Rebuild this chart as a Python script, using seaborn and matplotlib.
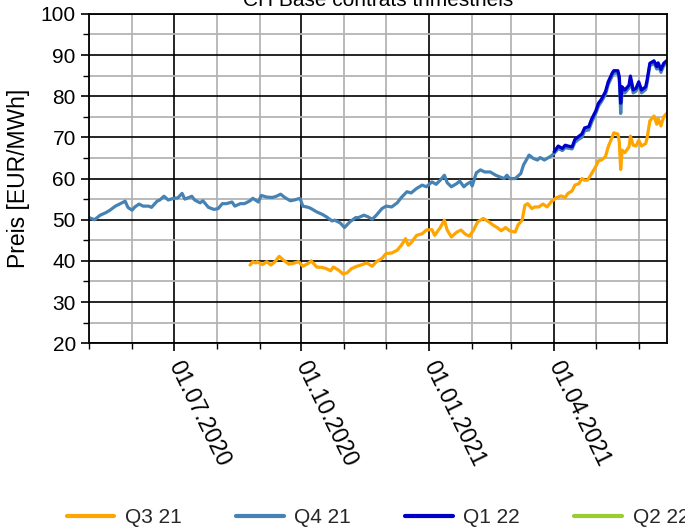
import matplotlib
matplotlib.use("Agg")
import matplotlib.pyplot as plt
import matplotlib.dates as mdates
import seaborn as sns
import pandas as pd

# ---------------- data ----------------
q3_21_dates = ["2020-08-25","2020-08-27","2020-08-29","2020-08-30","2020-09-03","2020-09-06","2020-09-09",
    "2020-09-12","2020-09-15","2020-09-18","2020-09-22","2020-09-25","2020-09-29","2020-10-02","2020-10-06",
    "2020-10-08","2020-10-12","2020-10-16","2020-10-19","2020-10-22","2020-10-24","2020-10-28","2020-10-31",
    "2020-11-03","2020-11-06","2020-11-10","2020-11-13","2020-11-17","2020-11-21","2020-11-24","2020-11-28",
    "2020-12-01","2020-12-05","2020-12-09","2020-12-12","2020-12-15","2020-12-17","2020-12-19","2020-12-23",
    "2020-12-27","2020-12-30","2021-01-03","2021-01-05","2021-01-09","2021-01-12","2021-01-14","2021-01-17",
    "2021-01-21","2021-01-24","2021-01-27","2021-01-30","2021-02-02","2021-02-05","2021-02-09","2021-02-13",
    "2021-02-16","2021-02-19","2021-02-22","2021-02-25","2021-02-28","2021-03-04","2021-03-06","2021-03-09",
    "2021-03-11","2021-03-13","2021-03-16","2021-03-18","2021-03-21","2021-03-24","2021-03-27","2021-03-30",
    "2021-04-03","2021-04-06","2021-04-09","2021-04-11","2021-04-14","2021-04-16","2021-04-19","2021-04-21",
    "2021-04-23","2021-04-25","2021-04-27","2021-05-01","2021-05-03","2021-05-05","2021-05-08","2021-05-10",
    "2021-05-13","2021-05-14","2021-05-17","2021-05-18","2021-05-19","2021-05-20","2021-05-22","2021-05-25",
    "2021-05-26","2021-05-28","2021-05-30","2021-06-01","2021-06-03","2021-06-06","2021-06-07","2021-06-09",
    "2021-06-12","2021-06-14","2021-06-15","2021-06-17","2021-06-19","2021-06-21"]
q3_21_values = [39.0,39.8,39.5,39.8,39.1,39.8,39.0,
    39.8,41.1,40.2,39.2,39.4,39.8,38.7,39.4,
    40.0,38.5,38.4,38.1,37.6,38.5,37.7,36.8,
    37.1,38.1,38.7,39.0,39.5,38.7,39.8,40.6,
    41.8,41.9,42.6,43.8,45.4,43.8,44.4,46.2,
    46.6,47.5,47.6,46.2,48.1,49.9,47.5,45.8,
    47.0,47.5,46.5,46.0,47.5,49.5,50.3,49.5,
    48.7,48.1,47.3,48.1,47.3,47.0,48.7,49.9,
    53.5,53.9,52.7,53.1,53.1,53.8,53.1,54.4,
    55.4,55.8,55.4,56.4,57.0,58.4,58.8,60.0,
    59.6,59.6,60.6,62.9,64.3,64.5,65.3,67.7,
    70.2,71.1,70.8,68.9,62.2,66.9,66.3,67.7,
    70.3,68.1,67.9,69.3,67.9,68.5,69.8,74.0,
    75.2,73.2,74.6,72.8,75.0,75.8]

q4_21_dates = ["2020-05-01","2020-05-05","2020-05-09","2020-05-13","2020-05-16","2020-05-20","2020-05-23",
    "2020-05-27","2020-05-29","2020-06-01","2020-06-03","2020-06-06","2020-06-09","2020-06-13","2020-06-15",
    "2020-06-19","2020-06-21","2020-06-24","2020-06-27","2020-07-01","2020-07-04","2020-07-07","2020-07-09",
    "2020-07-12","2020-07-14","2020-07-16","2020-07-20","2020-07-22","2020-07-26","2020-07-30","2020-08-02",
    "2020-08-05","2020-08-08","2020-08-12","2020-08-14","2020-08-18","2020-08-21","2020-08-25","2020-08-27",
    "2020-08-31","2020-09-02","2020-09-06","2020-09-10","2020-09-13","2020-09-16","2020-09-19","2020-09-23",
    "2020-09-26","2020-09-30","2020-10-02","2020-10-06","2020-10-08","2020-10-12","2020-10-16","2020-10-19",
    "2020-10-23","2020-10-25","2020-10-29","2020-11-01","2020-11-05","2020-11-09","2020-11-11","2020-11-15",
    "2020-11-18","2020-11-21","2020-11-24","2020-11-28","2020-12-01","2020-12-05","2020-12-09","2020-12-12",
    "2020-12-16","2020-12-19","2020-12-23","2020-12-27","2020-12-30","2021-01-03","2021-01-06","2021-01-09",
    "2021-01-12","2021-01-14","2021-01-17","2021-01-21","2021-01-23","2021-01-26","2021-01-28","2021-01-31",
    "2021-02-01","2021-02-04","2021-02-07","2021-02-10","2021-02-14","2021-02-18","2021-02-21","2021-02-24",
    "2021-02-26","2021-02-28","2021-03-04","2021-03-08","2021-03-10","2021-03-14","2021-03-17","2021-03-20",
    "2021-03-22","2021-03-25","2021-03-28","2021-03-30","2021-04-01","2021-04-04","2021-04-07","2021-04-09",
    "2021-04-11","2021-04-14","2021-04-16","2021-04-19","2021-04-21","2021-04-23","2021-04-26","2021-04-28",
    "2021-05-01","2021-05-03","2021-05-05","2021-05-08","2021-05-10","2021-05-13","2021-05-14","2021-05-17",
    "2021-05-18","2021-05-19","2021-05-20","2021-05-22","2021-05-25","2021-05-26","2021-05-28","2021-05-30",
    "2021-06-01","2021-06-03","2021-06-06","2021-06-07","2021-06-09","2021-06-12","2021-06-14","2021-06-15",
    "2021-06-17","2021-06-19","2021-06-21"]
q4_21_values = [50.5,50.0,51.1,51.7,52.3,53.3,53.8,
    54.5,53.0,52.3,53.1,53.8,53.3,53.3,53.0,
    54.5,54.8,55.7,54.8,55.2,55.3,56.4,55.0,
    55.4,55.7,54.8,54.1,54.6,53.0,52.5,52.7,
    53.9,53.9,54.3,53.3,53.9,53.9,54.6,55.2,
    54.3,55.9,55.5,55.4,55.7,56.2,55.4,54.6,
    54.8,55.2,53.3,53.0,52.7,51.9,51.3,50.7,
    49.7,49.9,49.2,48.1,49.5,50.5,50.5,51.1,
    50.7,50.1,51.1,52.7,53.3,53.1,54.1,55.4,
    56.8,56.5,57.6,58.4,58.0,59.2,58.6,59.6,
    60.8,59.0,58.0,58.8,59.4,58.0,58.6,59.2,
    58.2,61.4,62.1,61.6,61.6,60.8,60.4,60.0,
    60.8,60.0,60.0,61.2,63.3,65.7,64.9,64.5,
    65.1,64.5,65.1,65.5,66.1,67.3,66.8,67.5,
    67.4,67.2,68.8,69.6,70.0,71.6,71.8,73.6,
    75.8,77.6,78.6,80.4,82.8,85.0,85.6,85.6,
    84.0,75.8,81.5,80.8,82.0,84.2,80.8,81.2,
    82.8,80.8,81.6,83.2,87.4,88.0,86.6,87.5,
    85.8,87.4,88.0]

q1_22_dates = ["2021-04-01","2021-04-04","2021-04-07","2021-04-09","2021-04-11","2021-04-14","2021-04-16",
    "2021-04-19","2021-04-21","2021-04-23","2021-04-26","2021-04-28","2021-05-01","2021-05-03","2021-05-05",
    "2021-05-08","2021-05-10","2021-05-13","2021-05-14","2021-05-17","2021-05-18","2021-05-19","2021-05-20",
    "2021-05-22","2021-05-25","2021-05-26","2021-05-28","2021-05-30","2021-06-01","2021-06-03","2021-06-06",
    "2021-06-07","2021-06-09","2021-06-12","2021-06-14","2021-06-15","2021-06-17","2021-06-19","2021-06-21"]
q1_22_values = [66.5,67.9,67.3,68.1,67.9,67.7,69.5,
    70.3,70.8,72.3,72.6,74.4,76.4,78.3,79.2,
    81.1,83.5,85.7,86.2,86.2,84.7,78.3,82.3,
    81.5,82.7,84.9,81.5,81.9,83.5,81.5,82.3,
    83.9,88.0,88.6,87.2,88.1,86.5,88.0,88.6]

q2_22_dates = []
q2_22_values = []

series_labels = ["Q3 21", "Q4 21", "Q1 22", "Q2 22"]
series_colors = ["#FFA500", "#4682B4", "#0000CD", "#9ACD32"]

title_text = "CH Base contrats trimestriels"
y_label = "Preis [EUR/MWh]"
x_start, x_end = "2020-05-01", "2021-06-21"
y_min, y_max = 20, 100

# ---------------- plot ----------------
sns.set_theme(style="white")
plt.rcParams["font.family"] = ["Liberation Sans", "DejaVu Sans"]

fig = plt.figure(figsize=(6.85, 5.28), dpi=100)
ax = fig.add_axes([0.130, 0.350, 0.843, 0.6237])

all_series = [(q3_21_dates, q3_21_values), (q4_21_dates, q4_21_values),
              (q1_22_dates, q1_22_values), (q2_22_dates, q2_22_values)]

for (d, v), lab, col in zip(all_series, series_labels, series_colors):
    if len(d) > 0:
        df = pd.DataFrame({"date": pd.to_datetime(d), "value": v})
        sns.lineplot(data=df, x="date", y="value", ax=ax, color=col, linewidth=2.3, label=lab)
    else:
        ax.plot([], [], color=col, linewidth=2.3, label=lab)

ax.set_xlim(pd.Timestamp(x_start), pd.Timestamp(x_end))
ax.set_ylim(y_min, y_max)

ax.xaxis.set_major_locator(mdates.MonthLocator(bymonth=[1, 4, 7, 10]))
ax.xaxis.set_minor_locator(mdates.MonthLocator())
ax.xaxis.set_major_formatter(mdates.DateFormatter("%d.%m.%Y"))
ax.yaxis.set_major_locator(plt.MultipleLocator(10))
ax.yaxis.set_minor_locator(plt.MultipleLocator(5))

ax.grid(which="minor", color="#b4b4b4", linewidth=1.3, zorder=0)
ax.grid(which="major", color="black", linewidth=1.2, zorder=0)
ax.set_axisbelow(True)

for s in ax.spines.values():
    s.set_color("black")
    s.set_linewidth(1.3)

ax.tick_params(axis="both", which="major", direction="out", length=6, width=1.2,
               color="black", labelsize=15, labelcolor="black", bottom=True, left=True)
ax.tick_params(axis="both", which="minor", direction="out", length=4, width=1.0,
               color="black", bottom=True, left=True)
ax.tick_params(axis="x", which="major", pad=8)

for lbl in ax.get_xticklabels():
    lbl.set_rotation(-64)
    lbl.set_ha("left")
    lbl.set_va("center")
    lbl.set_rotation_mode("anchor")
    lbl.set_fontsize(16.5)

ax.set_xlabel("")
ax.set_ylabel(y_label, fontsize=16.5, color="black", labelpad=8)

fig.text(0.552, 1 - 6 / 528, title_text, ha="center", va="baseline", fontsize=15, color="black")

leg = ax.legend(loc="center", bbox_to_anchor=(0.5, -0.53), ncol=4, frameon=False,
                fontsize=15, handlelength=2.3, handletextpad=0.5, columnspacing=2.6)
for line in leg.get_lines():
    line.set_linewidth(3)

fig.savefig("out.png", dpi=100)
